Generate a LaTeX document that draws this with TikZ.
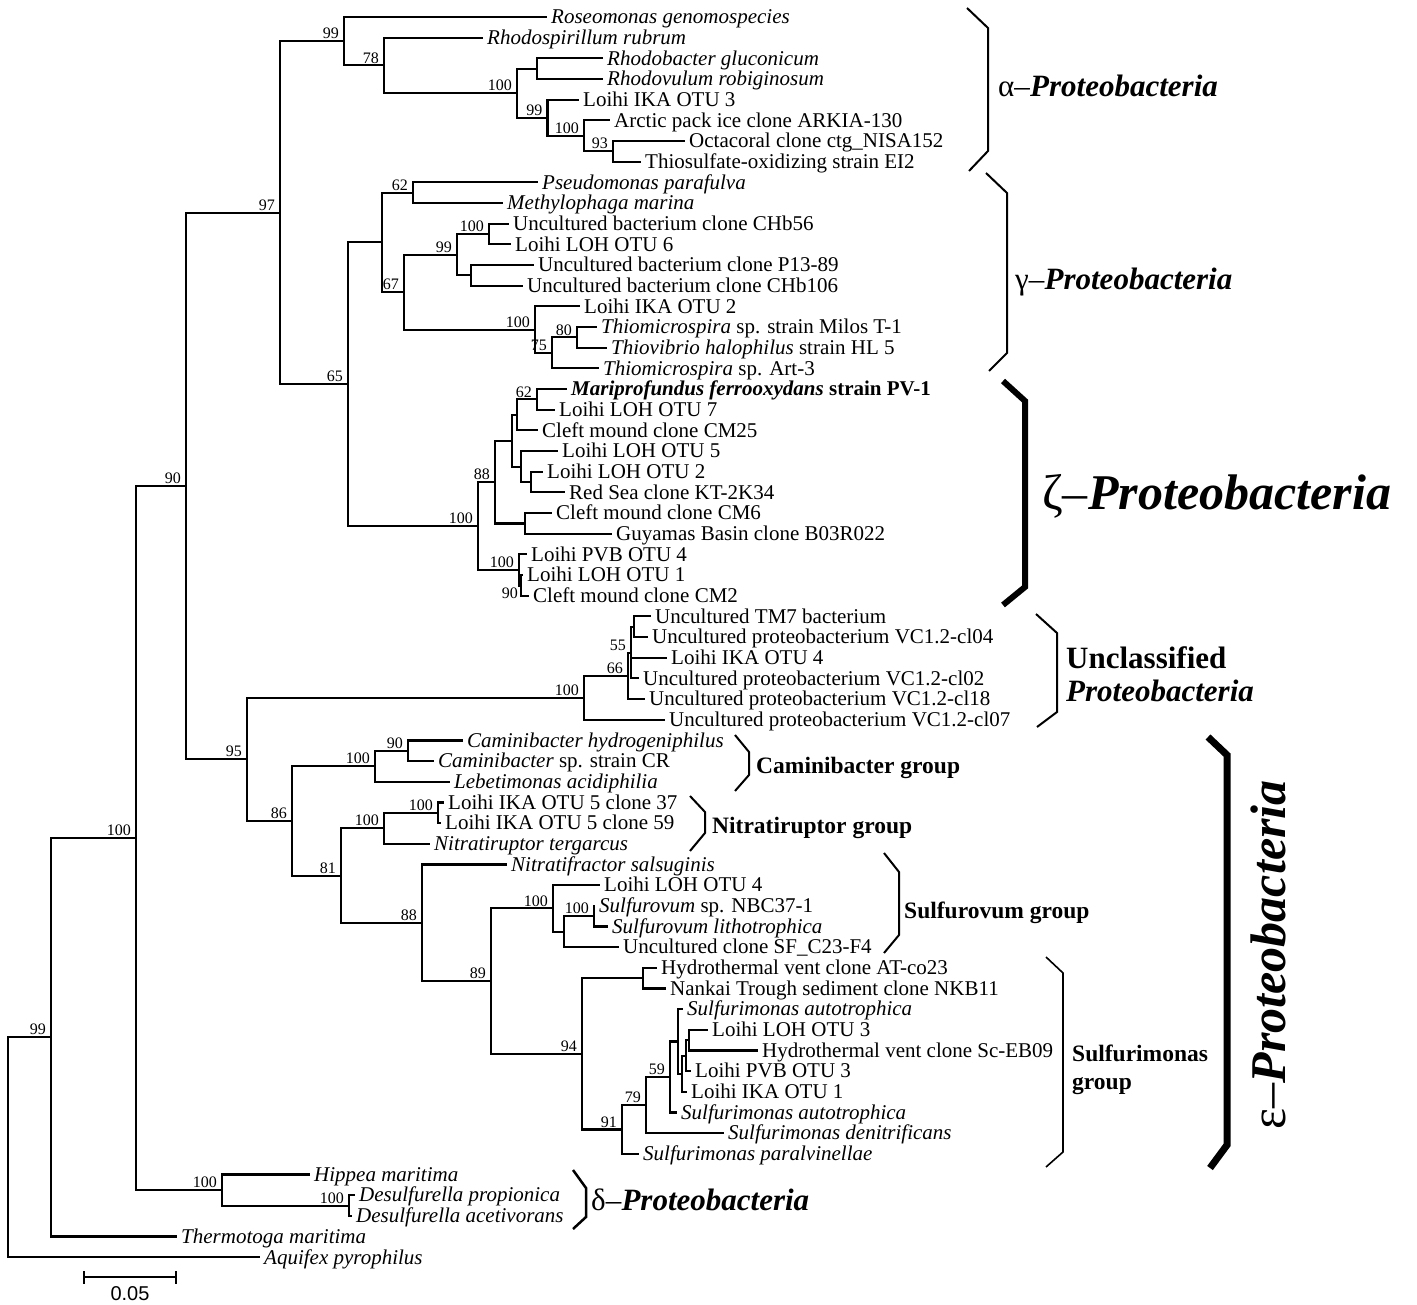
\documentclass[tikz,border=0pt]{standalone}
\usepackage{fontspec}
\setmainfont{Liberation Serif}
\newfontfamily\barfont{Liberation Sans}
\begin{document}
\begin{tikzpicture}[x=1pt,y=-1pt,
    branch/.style={line width=2.1pt},
    clade/.style={line width=2pt},
    leaf/.style={anchor=base west,inner sep=0pt,xshift=4pt,yshift=-6.8pt,font=\fontsize{21}{22}\selectfont},
    bootf/.style={inner sep=0pt,font=\fontsize{16}{17}\selectfont},
    boot/.style={bootf,anchor=south east,xshift=-5pt,yshift=2pt},
    grp/.style={anchor=base west,inner sep=0pt,font=\fontsize{23.5}{26}\selectfont\bfseries},
    phyl/.style={anchor=base west,inner sep=0pt,font=\fontsize{31}{34}\selectfont}]
  \useasboundingbox (0,0) rectangle (1417,1305);
  % leaves
  \foreach \i/\x/\txt in {0/547/\textit{Roseomonas genomospecies},1/483/\textit{Rhodospirillum rubrum},
      2/603/\textit{Rhodobacter gluconicum},3/603/\textit{Rhodovulum robiginosum},4/579/Loihi IKA OTU 3,
      5/610/Arctic pack ice clone ARKIA-130,6/685/Octacoral clone ctg\_NISA152,7/641/Thiosulfate-oxidizing strain EI2,
      8/538/\textit{Pseudomonas parafulva},9/503/\textit{Methylophaga marina},10/509/Uncultured bacterium clone CHb56,
      11/511/Loihi LOH OTU 6,12/534/Uncultured bacterium clone P13-89,13/523/Uncultured bacterium clone CHb106,
      14/580/Loihi IKA OTU 2,15/597/\textit{Thiomicrospira} sp. strain Milos T-1,16/607/\textit{Thiovibrio halophilus} strain HL 5,
      17/599/\textit{Thiomicrospira} sp. Art-3,18/567/\textbf{\textit{Mariprofundus ferrooxydans} strain PV-1},
      19/555/Loihi LOH OTU 7,20/538/Cleft mound clone CM25,21/558/Loihi LOH OTU 5,22/543/Loihi LOH OTU 2,
      23/565/Red Sea clone KT-2K34,24/552/Cleft mound clone CM6,25/612/Guyamas Basin clone B03R022,
      26/527/Loihi PVB OTU 4,27/523/Loihi LOH OTU 1,28/529/Cleft mound clone CM2,29/651/Uncultured TM7 bacterium,
      30/648/Uncultured proteobacterium VC1.2-cl04,31/667/Loihi IKA OTU 4,32/639/Uncultured proteobacterium VC1.2-cl02,
      33/645/Uncultured proteobacterium VC1.2-cl18,34/665/Uncultured proteobacterium VC1.2-cl07,
      35/463/\textit{Caminibacter hydrogeniphilus},36/434/\textit{Caminibacter} sp. strain CR,37/450/\textit{Lebetimonas acidiphilia},
      38/444/Loihi IKA OTU 5 clone 37,39/441/Loihi IKA OTU 5 clone 59,40/430/\textit{Nitratiruptor tergarcus},
      41/507/\textit{Nitratifractor salsuginis},42/600/Loihi LOH OTU 4,43/595/\textit{Sulfurovum} sp. NBC37-1,
      44/608/\textit{Sulfurovum lithotrophica},45/619/Uncultured clone SF\_C23-F4,46/657/Hydrothermal vent clone AT-co23,
      47/666/Nankai Trough sediment clone NKB11,48/683/\textit{Sulfurimonas autotrophica},49/708/Loihi LOH OTU 3,
      50/758/Hydrothermal vent clone Sc-EB09,51/691/Loihi PVB OTU 3,52/687/Loihi IKA OTU 1,
      53/677/\textit{Sulfurimonas autotrophica},54/724/\textit{Sulfurimonas denitrificans},55/639/\textit{Sulfurimonas paralvinellae},
      56/310/\textit{Hippea maritima},57/355/\textit{Desulfurella propionica},58/352/\textit{Desulfurella acetivorans},
      59/177/\textit{Thermotoga maritima},60/260/\textit{Aquifex pyrophilus}}
  {
    \coordinate (l\i) at (\x,{17+20.67*\i});
    \node[leaf] (t\i) at (l\i) {\txt};
  }
  % internal nodes
  \foreach \n/\x/\y in {a93/613/151.35,a100b/584/135.9,a99/547.5/117.8,aRh/537/68.65,a100/517/93.2,a78/384/65.45,a99t/344/41.2,
      g62/413/192.7,g100/489/234.05,gP/471/275.35,g99/457/254.7,g80/577/337.4,g75/552/352.9,g100b/535/329.65,g67/404/292.2,groot/382/242.45,
      z62/537/399.4,zA/517/414.9,zR/531/482.05,zB/521/466.6,zC/512/440.75,zD/525/523.45,z88/495/482.1,z90/521/585.45,z100b/519/569.9,
      z100/478/526,n65/348/384.2,n97/280/212.7,u7/634/626.75,u55/631/652.6,u66/628/675.85,u100/584/697.8,
      c90/408/750.8,c100/375/766.3,ni100a/438/812.8,ni100/384/828.3,so100i/594/916.15,soS/564/931.7,so100/553/908.4,
      sAT/643/978.15,sA/689/1040.15,sB/686/1055.7,sC/682/1073.75,sD/678/1041.5,s59/670/1077,s79/646/1105.1,s91/622/1129.5,
      s94/582/1053.8,s89/491/981.1,s88/422/922.8,n81/341/875.55,n86/292/820.9,n95/247/759.35,n90/186/486,
      dD/349/1205.55,d100/222/1190,n100/136/838,n99/51/1037.25,root/8/1147.2}
    \coordinate (\n) at (\x,\y);
  % branches
  \foreach \p/\c in {a99t/l0,a99t/a78,a78/l1,a78/a100,a100/aRh,a100/a99,aRh/l2,aRh/l3,a99/l4,a99/a100b,a100b/l5,a100b/a93,a93/l6,a93/l7,
      groot/g62,groot/g67,g62/l8,g62/l9,g67/g99,g67/g100b,g99/g100,g99/gP,g100/l10,g100/l11,gP/l12,gP/l13,
      g100b/l14,g100b/g75,g75/g80,g75/l17,g80/l15,g80/l16,
      n97/a99t,n97/n65,n65/groot,n65/z100,z100/z88,z100/z100b,z88/zC,z88/zD,zC/zA,zC/zB,zA/z62,zA/l20,z62/l18,z62/l19,
      zB/l21,zB/zR,zR/l22,zR/l23,zD/l24,zD/l25,z100b/l26,z100b/z90,z90/l27,z90/l28,
      n90/n97,n90/n95,n95/u100,n95/n86,u100/u66,u100/l34,u66/u55,u66/l33,u55/u7,u55/l31,u55/l32,u7/l29,u7/l30,
      n86/c100,n86/n81,c100/c90,c100/l37,c90/l35,c90/l36,n81/ni100,n81/s88,ni100/ni100a,ni100/l40,ni100a/l38,ni100a/l39,
      s88/l41,s88/s89,s89/so100,s89/s94,so100/l42,so100/soS,soS/so100i,soS/l45,so100i/l43,so100i/l44,
      s94/sAT,s94/s91,sAT/l46,sAT/l47,s91/s79,s91/l55,s79/s59,s79/l54,s59/sD,s59/l53,sD/l48,sD/sC,sC/sB,sC/l52,
      sB/sA,sB/l51,sA/l49,sA/l50,n100/n90,n100/d100,d100/l56,d100/dD,dD/l57,dD/l58,n99/n100,n99/l59,root/n99,root/l60}
    \draw[branch] (\p) |- (\c);
  % bootstrap values
  \foreach \n/\v in {a99t/99,a78/78,a100/100,a99/99,a100b/100,a93/93,g62/62,g100/100,g99/99,g67/67,g100b/100,g80/80,g75/75,
      n97/97,n65/65,n90/90,z62/62,z88/88,z100/100,z100b/100,u100/100,u66/66,u55/55,n95/95,n86/86,c100/100,c90/90,n81/81,
      ni100/100,ni100a/100,s88/88,s89/89,so100/100,so100i/100,s94/94,s91/91,s79/79,s59/59,n100/100,n99/99,d100/100,dD/100}
    \node[boot] (b\n) at (\n) {\v};
  \node[bootf,anchor=east] (bz90) at (518,593) {90};
  % clade brackets
  \draw[clade] (967,8) -- (988,28) -- (988,151) -- (969,171);
  \draw[clade] (986,173) -- (1007,193) -- (1007,353) -- (989,371);
  \draw[clade,line width=6pt] (1003,381) -- (1025,401) -- (1025,587) -- (1003,605);
  \draw[clade] (1036,614) -- (1057,633) -- (1057,712) -- (1037,727);
  \draw[clade] (735,735) -- (749,752) -- (749,775) -- (735,791);
  \draw[clade] (690,796) -- (705,812) -- (705,833) -- (690,851);
  \draw[clade] (884,853) -- (899,872) -- (899,935) -- (884,953);
  \draw[clade,line width=1.6pt] (1046,957) -- (1063,973) -- (1063,1152) -- (1046,1167);
  \draw[clade,line width=7pt] (1208,737) -- (1227,755) -- (1227,1145) -- (1210,1168);
  \draw[clade,line width=2.5pt] (573,1170) -- (586,1188) -- (586,1217) -- (573,1229);
  \node[phyl] (alpha) at (998,97) {α–\textbf{\textit{Proteobacteria}}};
  \node[phyl] (gamma) at (1015,290) {γ–\textbf{\textit{Proteobacteria}}};
  \node[phyl,font=\fontsize{50}{54}\selectfont] (zeta) at (1042,510) {ζ–\textbf{\textit{Proteobacteria}}};
  \node[phyl] (uncl) at (1066,668) {\textbf{Unclassified}};
  \node[phyl] (uncl2) at (1066,701) {\textbf{\textit{Proteobacteria}}};
  \node[grp] (camg) at (756,773) {Caminibacter group};
  \node[grp] (nitg) at (712,833) {Nitratiruptor group};
  \node[grp] (sulvg) at (904,918) {Sulfurovum group};
  \node[grp] (sulmg) at (1072,1061) {Sulfurimonas};
  \node[grp] (sulmg2) at (1072,1089) {group};
  \node[rotate=90,inner sep=0pt,font=\fontsize{50}{54}\selectfont] (eps) at (1268,955) {ε–\textbf{\textit{Proteobacteria}}};
  \node[phyl] (delta) at (591,1210) {δ–\textbf{\textit{Proteobacteria}}};
  % scale bar
  \coordinate (sb0) at (84,1277);
  \coordinate (sb1) at (176,1277);
  \draw[line width=1.8pt] (sb0) -- (sb1);
  \draw[line width=1.8pt] (84,1271) -- (84,1284) (176,1271) -- (176,1284);
  \node[font=\barfont\fontsize{20}{22}\selectfont,inner sep=0pt] (sblab) at (130,1294) {0.05};
\end{tikzpicture}
\end{document}
